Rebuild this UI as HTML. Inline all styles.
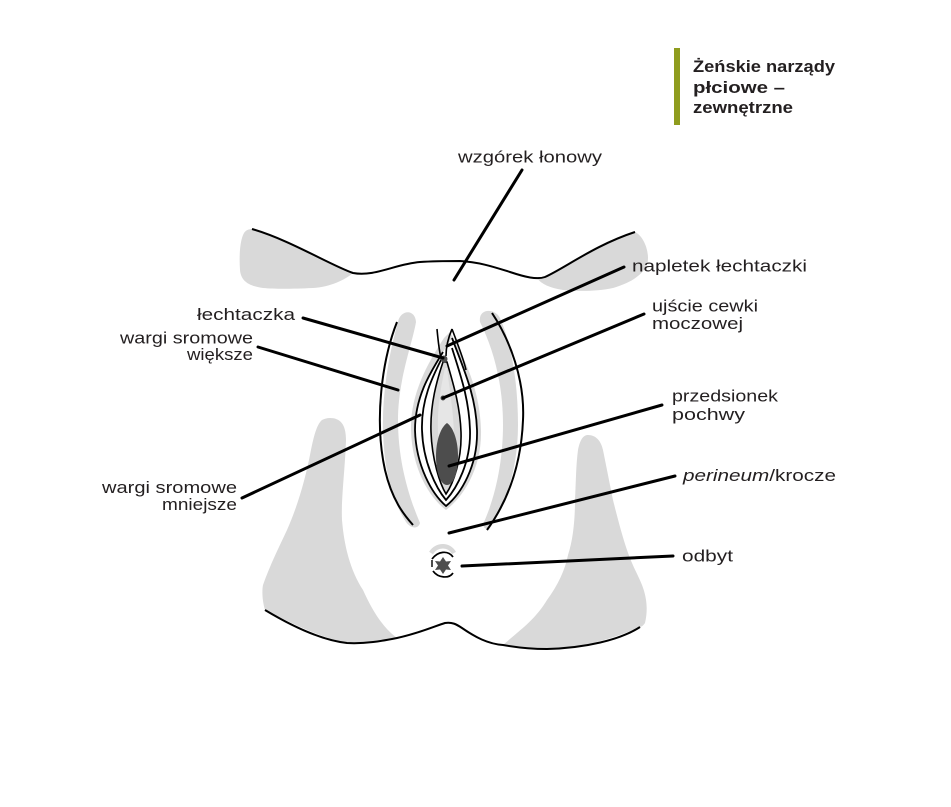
<!DOCTYPE html>
<html>
<head>
<meta charset="utf-8">
<style>
html,body{margin:0;padding:0;background:#fff;}
svg{display:block;}
text{font-family:"Liberation Sans","DejaVu Sans",sans-serif;fill:#231f20;}
</style>
</head>
<body>
<svg width="951" height="807" viewBox="0 0 951 807" xmlns="http://www.w3.org/2000/svg">
<rect width="951" height="807" fill="#fff"/>

<!-- Title -->
<rect x="674" y="48" width="6" height="77" fill="#8f9c1e"/>
<text x="693" y="72" font-size="17" font-weight="bold" textLength="142" lengthAdjust="spacingAndGlyphs">Żeńskie narządy</text>
<text x="693" y="93" font-size="17" font-weight="bold" textLength="92" lengthAdjust="spacingAndGlyphs">płciowe –</text>
<text x="693" y="113" font-size="17" font-weight="bold" textLength="100" lengthAdjust="spacingAndGlyphs">zewnętrzne</text>

<!-- Mons gray -->
<path d="M252,229 C290,240 330,265 353,273 C345,280 330,287 313,288 C290,289 275,289 263,288 C250,286 241,282 240,270 C239,255 240,240 244,233 C246,230 249,229 252,229 Z" fill="#d9d9d9"/>
<path d="M537,278 C560,275 590,248 635,232 C643,236 648,248 648,258 C648,268 640,280 613,288 C595,292 575,291 563,290 C550,288 541,284 537,278 Z" fill="#d9d9d9"/>
<path d="M252,229 C290,240 330,265 353,273 C375,277 395,264 420,262 C435,261 447,261 460,261 C480,262 497,268 510,272 C525,277 537,280 545,277 C565,268 595,245 635,232" fill="none" stroke="#000" stroke-width="2"/>

<!-- Thigh grays -->
<path d="M330,418 C340,418 346,424 346,440 C345,470 341,500 342,520 C344,545 350,570 363,590 C372,610 383,628 397,638 C380,641 360,643 347,643 C315,636 290,622 265,610 C262,600 262,590 263,585 C270,565 280,545 287,530 C298,505 305,480 310,455 C313,440 316,425 322,420 C324,419 327,418 330,418 Z" fill="#d9d9d9"/>
<path d="M588,435 C596,435 601,441 603,450 C607,470 610,485 613,500 C618,520 622,535 627,550 C632,565 638,575 642,585 C647,598 648,610 645,623 C643,626 641,627 640,627 C610,640 580,648 547,649 C530,648 515,647 503,645 C520,630 535,620 547,600 C558,585 565,570 568,555 C573,540 575,520 575,500 C576,480 576,465 578,450 C580,440 583,435 588,435 Z" fill="#d9d9d9"/>
<path d="M265,610 C290,625 320,640 347,643 C365,644 382,641 397,638 C420,633 435,626 445,623 C452,622 456,624 462,628 C475,637 488,644 503,645 C520,648 535,649 547,649 C585,648 620,640 640,627" fill="none" stroke="#000" stroke-width="2"/>

<!-- Labia majora gray bands -->
<path d="M398,322 C400,310 415,308 416,322 C412,345 398,380 398,420 C398,460 408,495 420,523 C418,530 410,528 406,522 C392,500 384,470 383,430 C382,390 390,350 398,322 Z" fill="#d9d9d9"/>
<path d="M480,322 C478,308 495,308 500,318 C512,345 518,385 518,425 C518,470 505,505 490,528 C486,530 482,528 484,522 C496,495 503,460 503,425 C503,385 494,350 480,322 Z" fill="#d9d9d9"/>
<!-- Labia majora outlines -->
<path d="M397,322 C382,360 374,420 385,470 C392,500 404,515 413,525" fill="none" stroke="#000" stroke-width="2"/>
<path d="M492,313 C510,340 525,380 523,420 C521,470 505,505 487,530" fill="none" stroke="#000" stroke-width="2"/>

<!-- Labia minora (nested almonds) -->
<path d="M444,338 C430,360 410,392 411,430 C412,470 430,498 446,510 C462,498 482,470 481,430 C480,392 466,360 450,332 Z" fill="#d9d9d9"/>
<path d="M443,352 C432,370 415,395 415,430 C416,466 432,494 446,506 C461,494 478,466 477,430 C476,396 464,370 452,338" fill="#fff" stroke="#000" stroke-width="1.8"/>
<path d="M442,358 C434,374 421,398 422,430 C423,462 436,488 446,500 C457,488 471,462 470,430 C469,398 460,374 452,348" fill="#fff" stroke="#000" stroke-width="1.8"/>
<path d="M443,362 C437,380 430,404 431,432 C432,460 440,484 446,494 C453,484 462,460 461,432 C460,404 452,380 447,362 Z" fill="#d9d9d9" stroke="#000" stroke-width="1.6"/>
<path d="M445,368 C441,386 437,408 438,432 C439,456 442,474 446,484 C450,474 455,456 454,432 C453,408 449,386 447,368 Z" fill="#e6e6e6"/>
<!-- hood lines -->
<path d="M437,329 C438,340 439,350 441,358" fill="none" stroke="#000" stroke-width="1.6"/>
<path d="M452,329 C449,336 446,346 446,356" fill="none" stroke="#000" stroke-width="1.6"/>
<path d="M452,329 C458,345 464,360 466,370" fill="none" stroke="#000" stroke-width="1.6"/>
<!-- vaginal opening -->
<path d="M447,423 C454,428 458,442 458,456 C458,474 453,485 447,485 C441,485 436,474 436,456 C436,442 440,428 447,423 Z" fill="#4d4d4d"/>
<!-- clitoris & urethra dots -->
<circle cx="444" cy="359" r="3.5" fill="#4d4d4d"/>
<circle cx="443" cy="398" r="2.5" fill="#4d4d4d"/>

<!-- Anus -->
<path d="M431,553 C437,544 449,544 454,553" fill="none" stroke="#d9d9d9" stroke-width="4.5"/>
<path d="M432,559 C438,551 448,550 453,557" fill="none" stroke="#000" stroke-width="1.7"/>
<path d="M433,571 C438,578 449,579 453,573" fill="none" stroke="#000" stroke-width="1.7"/>
<path d="M432,560 L432,567" stroke="#000" stroke-width="1.4"/>
<polygon points="443,557 446,561.5 451,561 448,565.5 451,570 446,569.5 443,574 440,569.5 435,570 438,565.5 435,561 440,561.5" fill="#4d4d4d"/>

<!-- Leader lines -->
<g stroke="#000" stroke-width="3" stroke-linecap="round" fill="none">
<line x1="522" y1="170" x2="454" y2="280"/>
<line x1="303" y1="318" x2="443" y2="358"/>
<line x1="258" y1="347" x2="398" y2="390"/>
<line x1="242" y1="498" x2="420" y2="415"/>
<line x1="447" y1="346" x2="624" y2="267"/>
<line x1="443" y1="398" x2="644" y2="314"/>
<line x1="449" y1="466" x2="662" y2="405"/>
<line x1="449" y1="533" x2="675" y2="476"/>
<line x1="462" y1="566" x2="673" y2="556"/>
</g>

<!-- Labels -->
<g font-size="16.5">
<text x="458" y="162.5" textLength="144" lengthAdjust="spacingAndGlyphs">wzgórek łonowy</text>
<text x="632" y="271.5" textLength="175" lengthAdjust="spacingAndGlyphs">napletek łechtaczki</text>
<text x="652" y="311.5" textLength="106" lengthAdjust="spacingAndGlyphs">ujście cewki</text>
<text x="652" y="329" textLength="91" lengthAdjust="spacingAndGlyphs">moczowej</text>
<text x="672" y="401.5" textLength="106" lengthAdjust="spacingAndGlyphs">przedsionek</text>
<text x="672" y="420" textLength="73" lengthAdjust="spacingAndGlyphs">pochwy</text>
<text x="683" y="481" textLength="153" lengthAdjust="spacingAndGlyphs"><tspan font-style="italic">perineum</tspan>/krocze</text>
<text x="682" y="561.5" textLength="51" lengthAdjust="spacingAndGlyphs">odbyt</text>
<text x="197" y="320" textLength="98" lengthAdjust="spacingAndGlyphs">łechtaczka</text>
<text x="120" y="343.3" textLength="133" lengthAdjust="spacingAndGlyphs">wargi sromowe</text>
<text x="187" y="360" textLength="66" lengthAdjust="spacingAndGlyphs">większe</text>
<text x="102" y="493" textLength="135" lengthAdjust="spacingAndGlyphs">wargi sromowe</text>
<text x="162" y="510" textLength="75" lengthAdjust="spacingAndGlyphs">mniejsze</text>
</g>
</svg>
</body>
</html>
